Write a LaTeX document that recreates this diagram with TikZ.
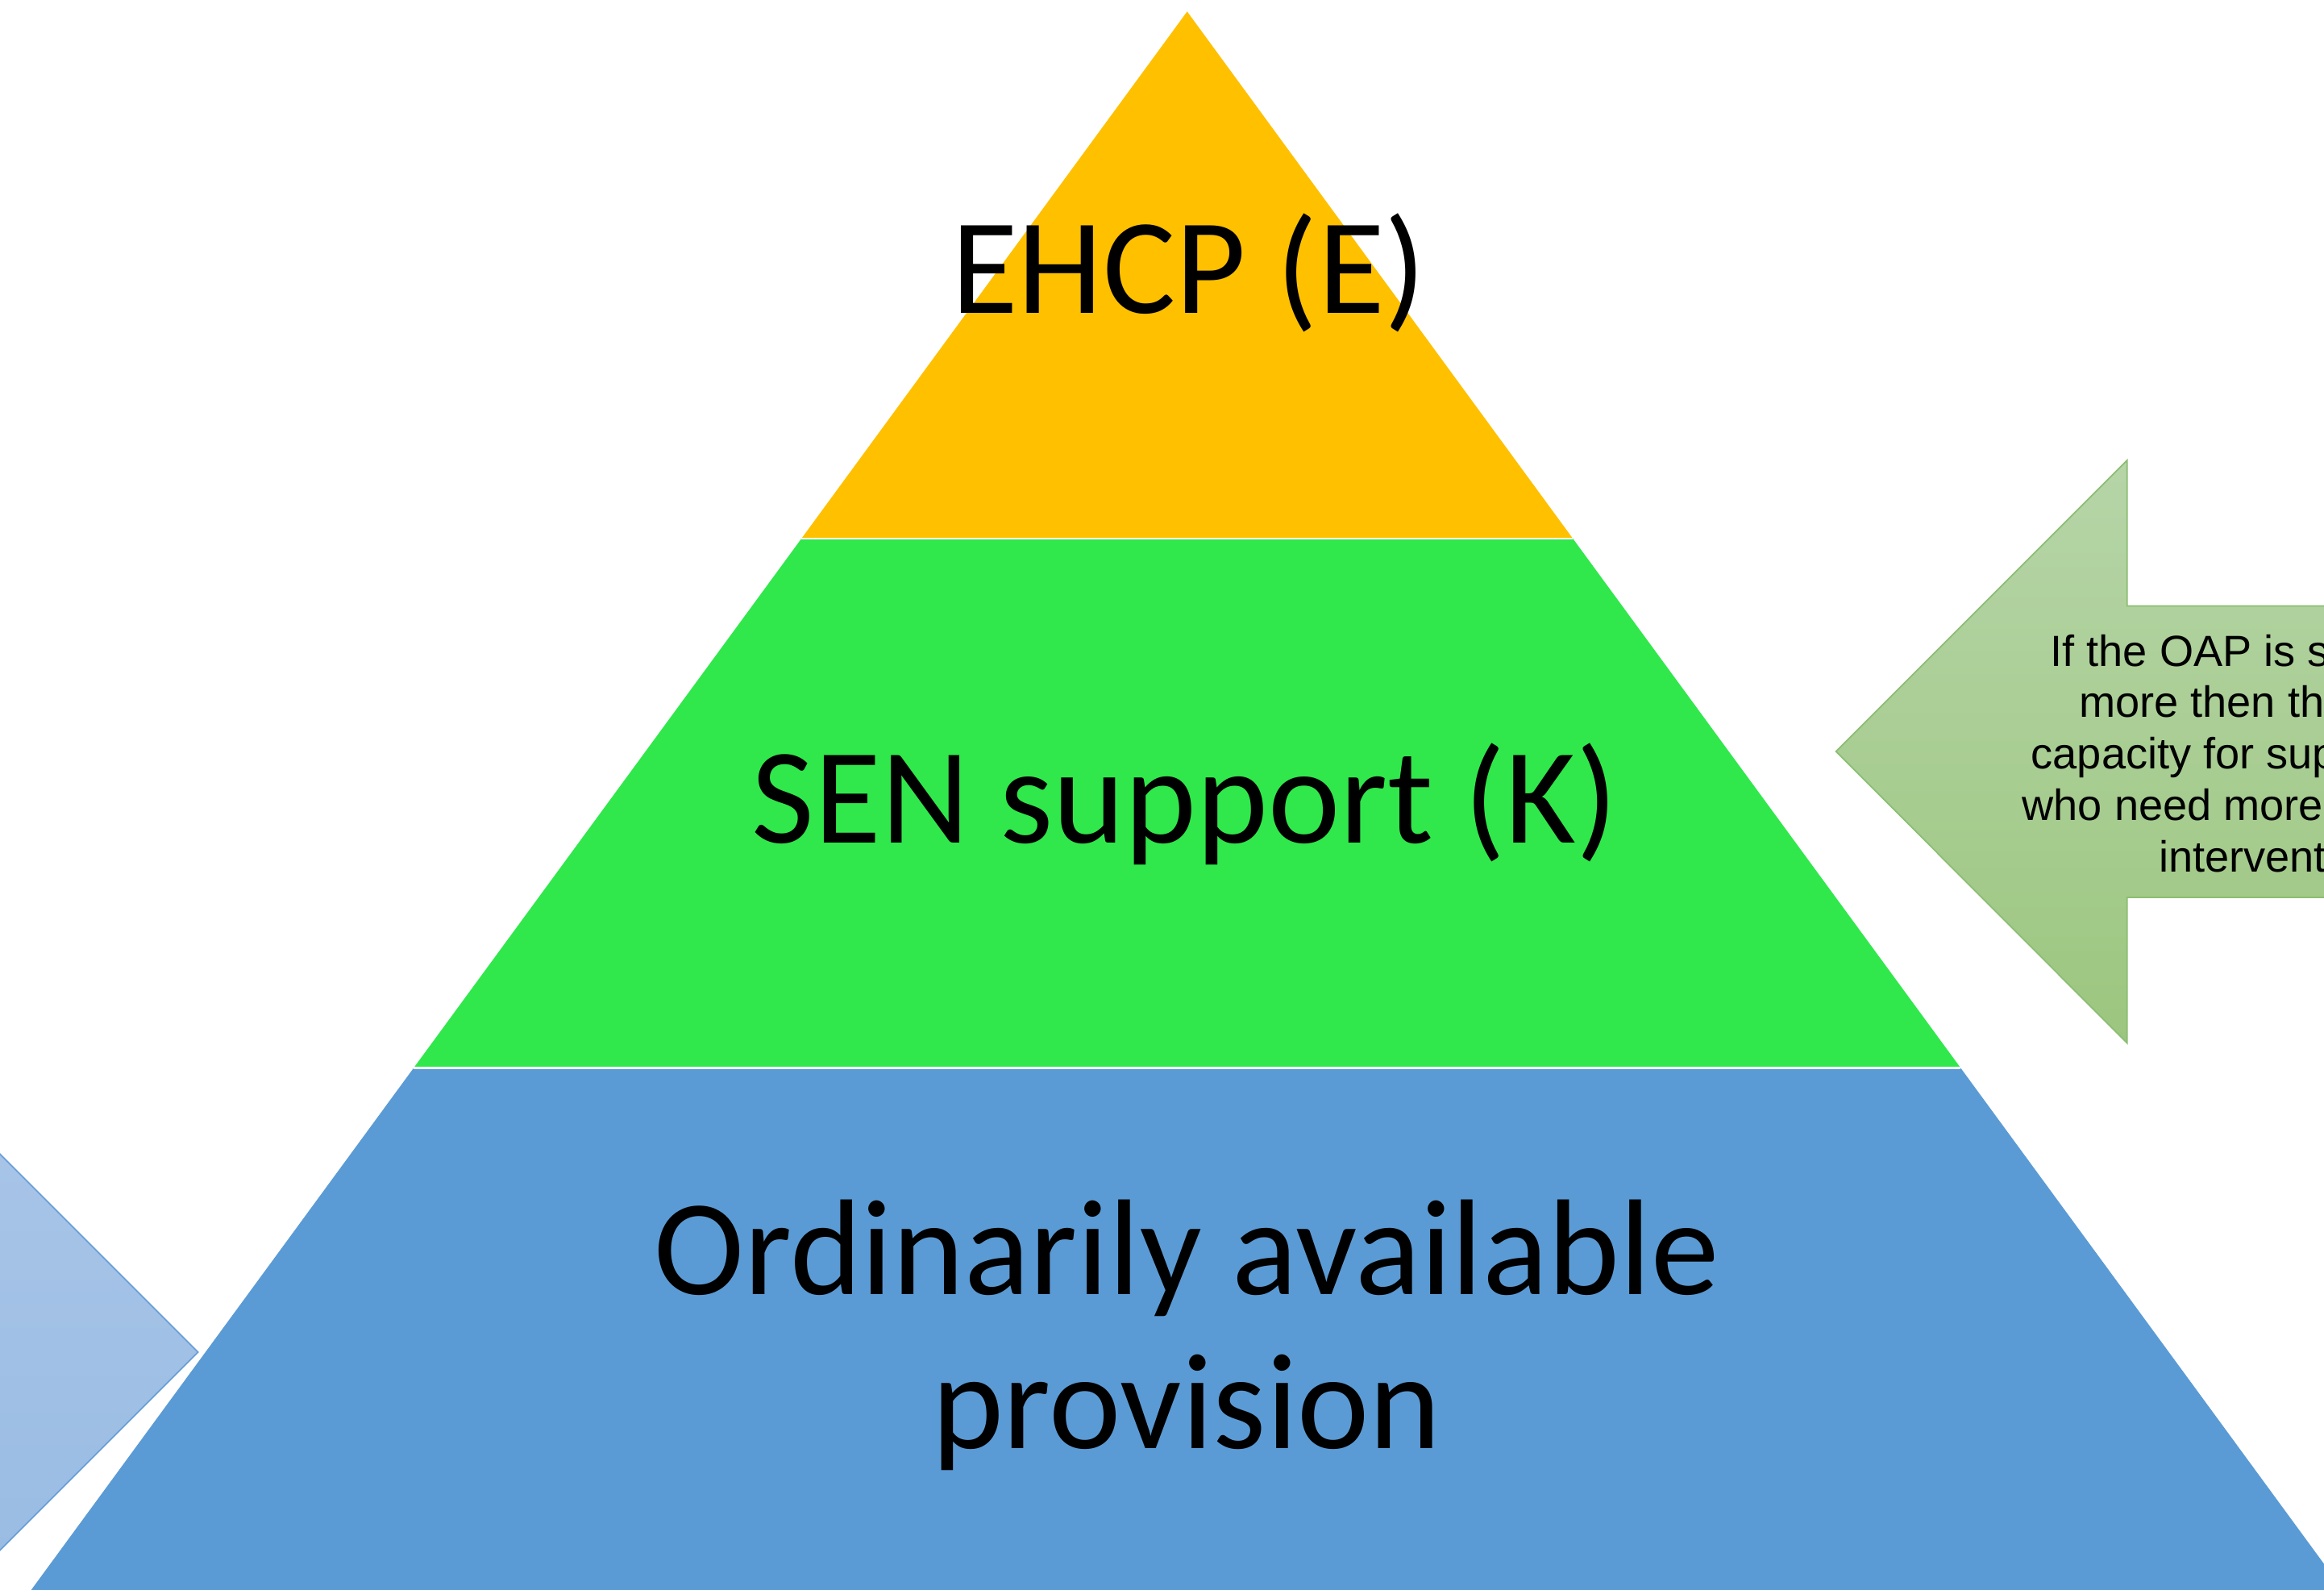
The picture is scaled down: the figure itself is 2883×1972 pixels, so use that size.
\documentclass[tikz,border=0pt]{standalone}
\usepackage{fontspec}
\setmainfont{Carlito}
\newfontfamily\arialfont{Liberation Sans}

\definecolor{tierTop}{HTML}{FFC000}
\definecolor{tierMid}{HTML}{30E84B}
\definecolor{tierBase}{HTML}{5B9BD5}
\definecolor{greenArrowTop}{HTML}{B6D5A8}
\definecolor{greenArrowBot}{HTML}{9CC67F}
\definecolor{greenArrowLine}{HTML}{8CBD72}
\definecolor{blueArrowTop}{HTML}{AAC6E8}
\definecolor{blueArrowBot}{HTML}{97BAE2}
\definecolor{blueArrowLine}{HTML}{6A9FD8}

\tikzset{
  tierlabel/.style={font=\fontsize{48.1}{54}\selectfont, inner sep=0pt, anchor=base, text=black},
  notetext/.style={font=\arialfont\fontsize{15.4}{18}\selectfont, inner sep=0pt, anchor=base west, text=black},
  tiergap/.style={white, line width=0.8pt},
  greenarrow/.style={top color=greenArrowTop, bottom color=greenArrowBot, draw=greenArrowLine, line width=0.5pt, line join=miter},
  bluearrow/.style={top color=blueArrowTop, bottom color=blueArrowBot, draw=blueArrowLine, line width=0.5pt, line join=miter}
}

\begin{document}
\begin{tikzpicture}[x=0.01cm, y=-0.01cm]
\useasboundingbox (0,0) rectangle (2883,1972);
\clip (0,0) rectangle (2883,1972);

% pyramid corners
\coordinate (apex) at (1472.7,14.3);
\coordinate (tl) at (994.2,668);
\coordinate (tr) at (1951.2,668);
\coordinate (ml) at (513.4,1324.2);
\coordinate (mr) at (2432,1324.2);
\coordinate (bl) at (-18.5,2050);
\coordinate (br) at (2963.9,2050);

% pyramid tiers
\fill[tierTop] (apex) -- (tr) -- (tl) -- cycle;
\fill[tierMid] (tl) -- (tr) -- (mr) -- (ml) -- cycle;
\fill[tierBase] (ml) -- (mr) -- (br) -- (bl) -- cycle;
\draw[tiergap] (tl) -- (tr);
\draw[tiergap] (ml) -- (mr);

% tier labels
\node[tierlabel] (ehcp) at (1474.6,388.3) {EHCP (E)};
\node[tierlabel] (sen) at (1470,1045.7) {SEN support (K)};
\node[tierlabel] (oapA) at (1472,1605.7) {Ordinarily available};
\node[tierlabel] (oapB) at (1472,1796.7) {provision};

% left-pointing callout arrow on the right
\shadedraw[greenarrow] (2277.7,932) -- (2638.8,570.8) -- (2638.8,751.4)
  -- (3000,751.4) -- (3000,1113) -- (2638.8,1113) -- (2638.8,1293.7) -- cycle;

\node[notetext] (noteA) at (2543,826) {If the OAP is s};
\node[notetext] (noteB) at (2578.5,889.8) {more then thi};
\node[notetext] (noteC) at (2519,953.6) {capacity for sup};
\node[notetext] (noteD) at (2508,1017.4) {who need more};
\node[notetext] (noteE) at (2677.6,1081.2) {intervent};

% right-pointing arrow on the left
\shadedraw[bluearrow] (245.7,1677) -- (-115.8,2038.5) -- (-115.8,1858)
  -- (-300,1858) -- (-300,1496) -- (-115.8,1496) -- (-115.8,1315.5) -- cycle;

\end{tikzpicture}
\end{document}
